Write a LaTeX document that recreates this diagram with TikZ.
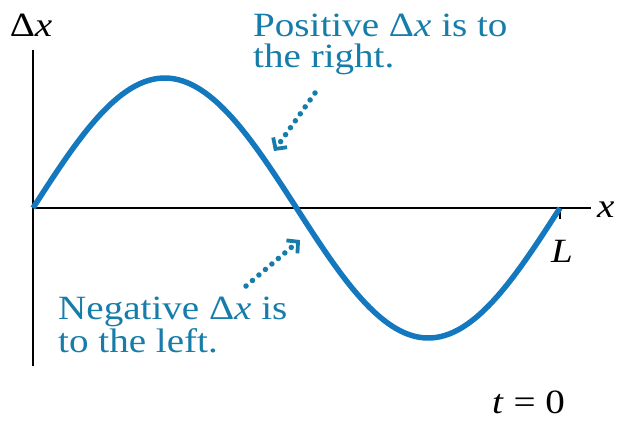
\documentclass[tikz,border=0pt]{standalone}
\usepackage{fontspec}
\setmainfont{Liberation Serif}[FakeStretch=1.15]
\usetikzlibrary{arrows.meta}
\definecolor{txtblue}{RGB}{22,125,170}
\definecolor{crvblue}{RGB}{20,120,190}
\tikzset{
  lbl/.style={font=\fontsize{34}{31}\selectfont, inner sep=0pt},
  note/.style={lbl, text=txtblue, align=left, anchor=base west},
  axisline/.style={line width=2.8pt, black},
  wave/.style={crvblue, line width=5.5pt},
  dotarrow/.style={txtblue, line width=5.5pt, line cap=round,
    dash pattern=on 0pt off 8.5pt,
    -{Straight Barb[length=8pt,width=17pt,line width=3.8pt]}}
}
\begin{document}
\begin{tikzpicture}[x=1pt,y=-1pt]
\useasboundingbox (0,0) rectangle (621,421);
% axes
\coordinate (vtop) at (33,50);
\coordinate (vbot) at (33,366);
\coordinate (orig) at (33,208);
\coordinate (xend) at (591,208);
\coordinate (Ltick) at (560,208);
\coordinate (Ltickb) at (560,219);
\draw[axisline] (vtop) -- (vbot);
\draw[axisline] (orig) -- (xend);
\draw[axisline] (Ltick) -- (Ltickb);
% wave
\draw[wave] plot[domain=0:360, samples=120] ({33+\x/360*527}, {208-130*sin(\x)});
% labels
\node[lbl, anchor=base] (dxlbl) at (31,36) {Δ\textit{x}};
\node[lbl, anchor=base west] (xlbl) at (597,217) {\textit{x}};
\node[lbl, anchor=base] (Llbl) at (562,262) {\textit{L}};
\node[lbl, anchor=base west] (tlbl) at (492,413) {\textit{t} = 0};
% notes (base = baseline of last line)
\node[note] (pos) at (253,67) {Positive Δ\textit{x} is to\\the right.};
\node[note] (neg) at (58,352) {Negative Δ\textit{x} is\\to the left.};
% dotted arrows
\coordinate (pa) at (315,93);
\coordinate (pb) at (274,151);
\coordinate (na) at (246,286);
\coordinate (nb) at (300,240);
\draw[dotarrow] (pa) -- (pb);
\draw[dotarrow] (na) -- (nb);
\end{tikzpicture}
\end{document}
